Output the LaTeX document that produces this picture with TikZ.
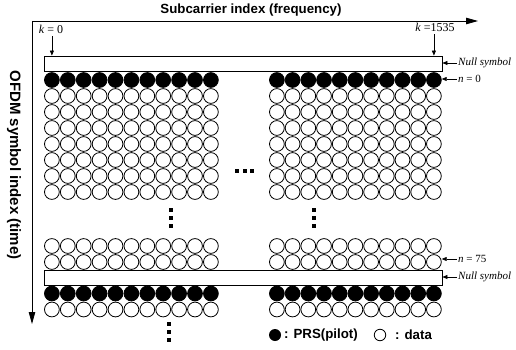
\documentclass[tikz,border=0pt]{standalone}
\usepackage{fontspec}
\setmainfont{Liberation Serif}
\setsansfont{Liberation Sans}
\usetikzlibrary{arrows.meta}
\begin{document}
\begin{tikzpicture}[x=1pt,y=-1pt,
  dat/.style={circle,draw,line width=0.8pt,minimum size=14.8pt,inner sep=0pt},
  nullbox/.style={draw,line width=0.8pt,minimum width=398pt,minimum height=15pt,inner sep=0pt},
  axislbl/.style={font=\sffamily\bfseries\fontsize{13.3}{15}\selectfont,inner sep=0pt},
  sidelbl/.style={font=\fontsize{11}{13}\selectfont,anchor=west,inner sep=1pt},
  toplbl/.style={font=\fontsize{12}{14}\selectfont,inner sep=1pt},
  ptr/.style={-{Triangle[length=5pt,width=4pt]},line width=0.6pt},
  axis/.style={-{Triangle[length=12pt,width=6.5pt]},line width=0.8pt},
  dotsq/.style={rectangle,fill=black,minimum size=4pt,inner sep=0pt},
  legtxt/.style={font=\sffamily\bfseries\fontsize{13.3}{15}\selectfont,anchor=west,inner sep=0pt},
]
\useasboundingbox (0,0) rectangle (516,350);
% axes
\coordinate (O) at (32,21);
\coordinate (XE) at (478,21);
\coordinate (YE) at (32,324);
\draw[axis] (O) -- (XE);
\draw[axis] (O) -- (YE);
\node[axislbl] (xlab) at (251,10) {Subcarrier index (frequency)};
\node[axislbl,font=\sffamily\bfseries\fontsize{15}{17}\selectfont,rotate=-90] (ylab) at (14,165) {OFDM symbol index (time)};

% null symbols
\node[nullbox] (null1) at (243,63.5) {};
\node[nullbox] (null2) at (243,277.5) {};

% subcarrier grid
\foreach \row/\y/\fc in {r0/80/black, r1/96/white, r2/112/white, r3/128/white, r4/144/white, r5/160/white, r6/176/white, r7/192/white, b1/246/white, b2/262/white, b3/293.5/black, b4/309.5/white} {
  \foreach \i in {0,...,10} {
    \node[dat,fill=\fc] (L-\row-\i) at ({51.9+15.9*\i},\y) {};
    \node[dat,fill=\fc] (R-\row-\i) at ({276.9+15.7*\i},\y) {};
  }
}

% ellipsis dots
\foreach \n/\x/\y in {h1/237/171, h2/244.5/171, h3/252/171,
                      vl1/170.5/210, vl2/170.5/218, vl3/170.5/226,
                      vr1/313.5/210, vr2/313.5/218, vr3/313.5/226,
                      vb1/169/324, vb2/169/332, vb3/169/340} {
  \node[dotsq] (d-\n) at (\x,\y) {};
}

% k labels
\node[toplbl] (k0) at (51,29) {\textit{k} = 0};
\node[toplbl] (k1535) at (435,27) {\textit{k} =1535};
\draw[ptr,shorten <=2pt] (k0.south -| L-r0-0) -- (L-r0-0 |- null1.north);
\draw[ptr,shorten <=2pt] (k1535.south -| R-r0-10) -- (R-r0-10 |- null1.north);

% right labels
\node[sidelbl] (ns1) at (457,63) {\textit{Null symbol}};
\node[sidelbl] (n0) at (457,79) {\textit{n} = 0};
\node[sidelbl] (n75) at (457,259) {\textit{n} = 75};
\node[sidelbl] (ns2) at (457,277) {\textit{Null symbol}};
\draw[ptr] (ns1.west) -- (null1.east |- ns1.west);
\draw[ptr] (n0.west) -- (R-r0-10.east |- n0.west);
\draw[ptr] (n75.west) -- (R-b2-10.east |- n75.west);
\draw[ptr] (ns2.west) -- (null2.east |- ns2.west);

% legend
\node[circle,fill=black,minimum size=12pt,inner sep=0pt] (lgp) at (275,335) {};
\node[legtxt] (lgpt) at (284,335) {: PRS(pilot)};
\node[circle,draw,line width=0.8pt,minimum size=11.5pt,inner sep=0pt] (lgd) at (380,335) {};
\node[legtxt] (lgdt) at (395,335) {: data};
\end{tikzpicture}
\end{document}
